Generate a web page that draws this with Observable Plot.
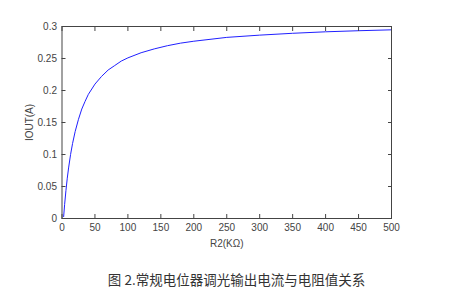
<!DOCTYPE html>
<html>
<head>
<meta charset="utf-8">
<script src="https://cdn.jsdelivr.net/npm/d3@7"></script>
<script src="https://cdn.jsdelivr.net/npm/@observablehq/plot@0.6"></script>
<style>
  html, body { margin: 0; padding: 0; background: #fff; }
  #wrap { position: relative; width: 473px; height: 299px; }
  #cap { position: absolute; left: 0; width: 473px; top: 268.5px; text-align: center;
         font-family: "Noto Sans CJK SC", sans-serif; font-size: 13.5px; color: #333; }
</style>
</head>
<body>
<div id="wrap"><div id="chart"></div><div id="cap"></div></div>
<script>
const r2Values = [2.5, 4, 6, 8, 10, 13, 16, 20, 25, 30, 35, 40, 50, 60, 70, 80, 90, 100, 120, 140, 160, 180, 200, 250, 300, 350, 400, 450, 500];
const ioutValues = [0.003, 0.022, 0.044, 0.063, 0.079, 0.100, 0.117, 0.136, 0.155, 0.171, 0.183, 0.194, 0.210, 0.222, 0.232, 0.239, 0.246, 0.251, 0.259, 0.265, 0.270, 0.274, 0.277, 0.283, 0.2865, 0.2894, 0.2917, 0.2934, 0.2948];
const xTicks = [0, 50, 100, 150, 200, 250, 300, 350, 400, 450, 500];
const yTicks = [0, 0.05, 0.1, 0.15, 0.2, 0.25, 0.3];
const xLabel = "R2(KΩ)";
const yLabel = "IOUT(A)";
const captionText = "图 2.常规电位器调光输出电流与电阻值关系";

const data = r2Values.map((r, i) => ({r, i: ioutValues[i]}));
const blank = () => "";

const chart = Plot.plot({
  width: 473,
  height: 256,
  marginLeft: 61.5,
  marginRight: 82,
  marginTop: 26,
  marginBottom: 38,
  style: {fontFamily: "'Liberation Sans', Arial, sans-serif", fontSize: "10px", color: "#444", background: "#fff"},
  x: {domain: [0, 500]},
  y: {domain: [0, 0.3]},
  marks: [
    Plot.line(data, {x: "r", y: "i", stroke: "#2020ff", strokeWidth: 1}),
    Plot.frame({stroke: "#444", strokeWidth: 1}),
    Plot.axisX({anchor: "bottom", ticks: xTicks, tickSize: 0, tickPadding: 5, label: xLabel, labelAnchor: "center", labelOffset: 28, labelArrow: false, tickFormat: d => String(d), fill: "#444"}),
    Plot.axisX({anchor: "bottom", ticks: xTicks, tickSize: -4, tickFormat: blank, label: null, stroke: "#444"}),
    Plot.axisX({anchor: "top", ticks: xTicks, tickSize: -4, tickFormat: blank, label: null, stroke: "#444"}),
    Plot.axisY({anchor: "left", ticks: yTicks, tickSize: 0, tickPadding: 5, label: yLabel, labelAnchor: "center", labelOffset: 36, labelArrow: false, tickFormat: d => String(d), fill: "#444"}),
    Plot.axisY({anchor: "left", ticks: yTicks, tickSize: -4, tickFormat: blank, label: null, stroke: "#444"}),
    Plot.axisY({anchor: "right", ticks: yTicks, tickSize: -4, tickFormat: blank, label: null, stroke: "#444"})
  ]
});
document.getElementById("chart").appendChild(chart);
document.getElementById("cap").textContent = captionText;
</script>
</body>
</html>
